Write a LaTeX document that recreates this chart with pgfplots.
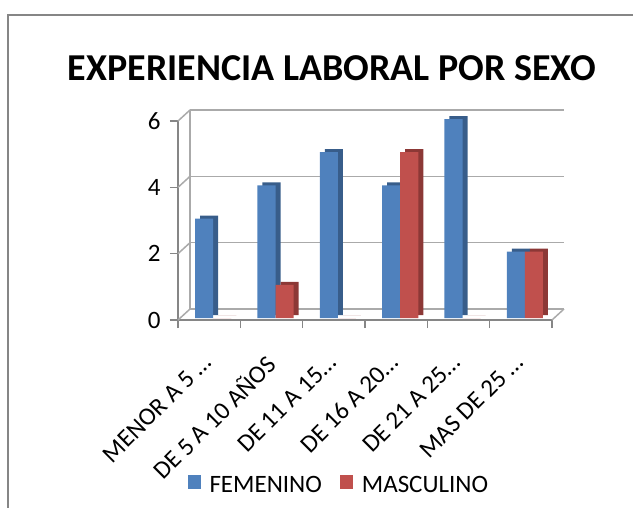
\documentclass[border=0pt]{standalone}
\usepackage{pgfplots}
\pgfplotsset{compat=1.18}
\usepackage{fontspec}
\setmainfont{Carlito}
\definecolor{fem}{HTML}{4F81BD}
\definecolor{femdark}{HTML}{385D8A}
\definecolor{mas}{HTML}{C0504D}
\definecolor{masdark}{HTML}{8C3836}
\definecolor{axgray}{HTML}{868686}

\begin{document}
\begin{tikzpicture}
% page = 633 x 507 pt, origin at top-left
\useasboundingbox (0pt,0pt) rectangle (633pt,-507pt);
\draw[axgray,line width=1.2pt] (8pt,-530pt) -- (8pt,-15pt) -- (660pt,-15pt);
\node[font=\fontsize{38}{44}\selectfont\bfseries] at (332pt,-68pt) {EXPERIENCIA LABORAL POR SEXO};
\begin{axis}[
 at={(178pt,-320pt)}, anchor=south west,
 scale only axis, width=374pt, height=199pt,
 xmin=-0.5, xmax=5.5, ymin=0, ymax=6,
 xtick={-0.5,0.5,1.5,2.5,3.5,4.5,5.5},
 x tick label as interval,
 xticklabels={MENOR A 5 …,DE 5 A 10 AÑOS,DE 11 A 15…,DE 16 A 20…,DE 21 A 25…,MAS DE 25 …},
 ytick={0,2,4,6},
 axis x line*=bottom, axis y line*=left,
 axis line style={axgray,line width=1.2pt,-},
 tick align=outside, major tick length=8pt,
 tick style={axgray,line width=1.2pt},
 ymajorgrids,
 major grid style={draw=axgray!70,line width=1.5pt,xshift=12pt,yshift=11pt},
 ticklabel style={font=\fontsize{25}{28}\selectfont},
 /pgf/number format/assume math mode=true,
 xticklabel style={xshift=-8pt,yshift=-23pt,rotate=45,anchor=north east,inner sep=1pt},
 yticklabel style={xshift=-6pt},
 ybar, bar width=0.29,
 legend columns=2,
 legend style={draw=none,fill=none,at={(0.43,-0.83)},anchor=center,
   font=\fontsize{25}{28}\selectfont,
   /tikz/every odd column/.append style={column sep=7pt},
   /tikz/every even column/.append style={column sep=16pt}},
 legend image code/.code={\fill[#1] (0pt,-6pt) rectangle (13pt,8pt);},
 clip=false,
]
% back wall decoration
\draw[axgray!70,line width=1.5pt] (axis cs:-0.5,0) ++(12pt,11pt) -- ++(0pt,199pt);
\pgfplotsinvokeforeach{0,2,4,6}{
 \draw[axgray!70,line width=1.5pt] (axis cs:-0.5,#1) -- ++(12pt,11pt);
}
\draw[axgray!70,line width=1.5pt] (axis cs:5.5,0) -- ++(12pt,11pt);

\addplot[fill=femdark,draw=none,bar shift=-0.08,xshift=5pt,yshift=5pt,forget plot]
 coordinates {(0,3) (1,4) (2,5) (3,4) (4,6) (5,2)};
\addplot[fill=fem,draw=none,bar shift=-0.08,yshift=2pt]
 coordinates {(0,3) (1,4) (2,5) (3,4) (4,6) (5,2)};
\addlegendentry{FEMENINO}
\addplot[fill=masdark,draw=none,bar shift=0.21,xshift=5pt,yshift=5pt,forget plot]
 coordinates {(0,0) (1,1) (2,0) (3,5) (4,0) (5,2)};
\addplot[fill=mas,draw=none,bar shift=0.21,yshift=2pt]
 coordinates {(0,0) (1,1) (2,0) (3,5) (4,0) (5,2)};
\addlegendentry{MASCULINO}
\end{axis}
\end{tikzpicture}
\end{document}
